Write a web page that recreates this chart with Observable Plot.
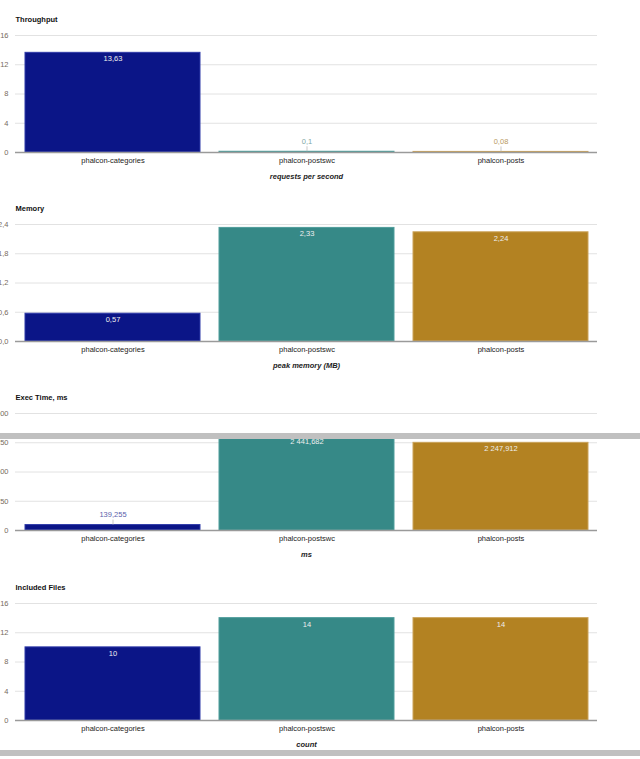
<!DOCTYPE html>
<html><head><meta charset="utf-8">
<script src="https://cdn.jsdelivr.net/npm/d3@7"></script>
<script src="https://cdn.jsdelivr.net/npm/@observablehq/plot@0.6"></script>
<style>
body{margin:0;background:#fff;overflow:hidden;font-family:"Liberation Sans",Arial,sans-serif}
#wrap{position:relative;width:640px;height:759px;overflow:hidden;background:#fff}
.panel{position:absolute;left:0}
.shade{position:absolute;left:0;width:640px;background:#c0c0c0;z-index:5}
</style></head><body><div id="wrap"></div>
<script>
const categories = ["phalcon-categories", "phalcon-postswc", "phalcon-posts"];
const throughput = [13.63, 0.1, 0.08];
const memory = [0.57, 2.33, 2.24];
const execTime = [139.255, 2441.682, 2247.912];
const includedFiles = [10, 14, 14];
const panelTitles = ["Throughput", "Memory", "Exec Time, ms", "Included Files"];
const axisTitles = ["requests per second", "peak memory (MB)", "ms", "count"];
const throughputTicks = [0, 4, 8, 12, 16];
const memoryTicks = [0, 0.6, 1.2, 1.8, 2.4];
const execTicks = [0, 750, 1500, 2250, 3000];
const filesTicks = [0, 4, 8, 12, 16];
const barColors = ["#0b1587", "#368987", "#b38222"];
const barEdges = ["#2f3aa8", "#4f9d9b", "#cba35a"];
const labelColors = ["#5b61ab", "#7ea8a6", "#b89a62"];

const loc = d3.formatLocale({decimal: ",", thousands: "\u00a0", grouping: [3], currency: ["", ""]});
const valueFmt = loc.format(",~f");
const intFmt = loc.format(",d");
const oneDecFmt = loc.format(".1f");

const FONT = "'Liberation Sans', Arial, sans-serif";
const INNER_H = 117;

function panel(idx, values, ticks, tickFmt, top) {
  const data = categories.map((c, i) => ({cat: c, v: values[i], i}));
  const yMax = ticks[ticks.length - 1];
  const inside = d => d.v / yMax * INNER_H >= 14;
  const ins = data.filter(inside);
  const outs = data.filter(d => !inside(d));
  const chart = Plot.plot({
    width: 640, height: 189,
    marginTop: 35, marginBottom: 37, marginLeft: 15, marginRight: 43,
    style: {fontFamily: FONT, fontSize: "7.5px", background: "transparent"},
    x: {domain: categories, paddingInner: 0.1, paddingOuter: 0.05},
    y: {domain: [0, yMax]},
    color: {type: "identity"},
    marks: [
      Plot.gridY(ticks.slice(1), {stroke: "#e2e2e2", strokeOpacity: 1}),
      Plot.barY(data, {x: "cat", y: "v", fill: d => barColors[d.i], stroke: d => barEdges[d.i], strokeWidth: 1}),
      Plot.ruleY([0], {stroke: "#9a9a9a", strokeWidth: 1.5}),
      Plot.axisY(ticks, {tickSize: 0, tickPadding: 7, tickFormat: tickFmt, color: "#776b60", fontSize: 7.5, label: null}),
      Plot.axisX({tickSize: 0, tickPadding: 5, color: "#222", fontSize: 7.5, label: null}),
      Plot.text(ins, {x: "cat", y: "v", text: d => valueFmt(d.v), dy: 6, fill: "#eeeeee", fontSize: 7.5}),
      Plot.ruleX(outs, {x: "cat", y1: "v", y2: d => d.v + yMax * 5 / INNER_H, stroke: "#bbbbbb", strokeWidth: 0.8}),
      Plot.text(outs, {x: "cat", y: "v", text: d => valueFmt(d.v), dy: -10, fill: d => labelColors[d.i], fontSize: 7.5}),
      Plot.text([panelTitles[idx]], {frameAnchor: "top-left", lineAnchor: "middle", dy: -16, textAnchor: "start", fontWeight: "bold", fill: "#111", fontSize: 7.5}),
      Plot.text([axisTitles[idx]], {frameAnchor: "bottom", lineAnchor: "middle", dy: 24, fontWeight: "bold", fontStyle: "italic", fill: "#222", fontSize: 7.5})
    ]
  });
  chart.classList.add("panel");
  chart.style.top = top + "px";
  document.getElementById("wrap").appendChild(chart);
}

panel(0, throughput, throughputTicks, intFmt, 0);
panel(1, memory, memoryTicks, oneDecFmt, 189);
panel(2, execTime, execTicks, intFmt, 378);
panel(3, includedFiles, filesTicks, intFmt, 568);

const wrap = document.getElementById("wrap");
for (const [t, h] of [[433, 6], [750, 6]]) {
  const s = document.createElement("div");
  s.className = "shade";
  s.style.top = t + "px";
  s.style.height = h + "px";
  wrap.appendChild(s);
}
</script></body></html>
